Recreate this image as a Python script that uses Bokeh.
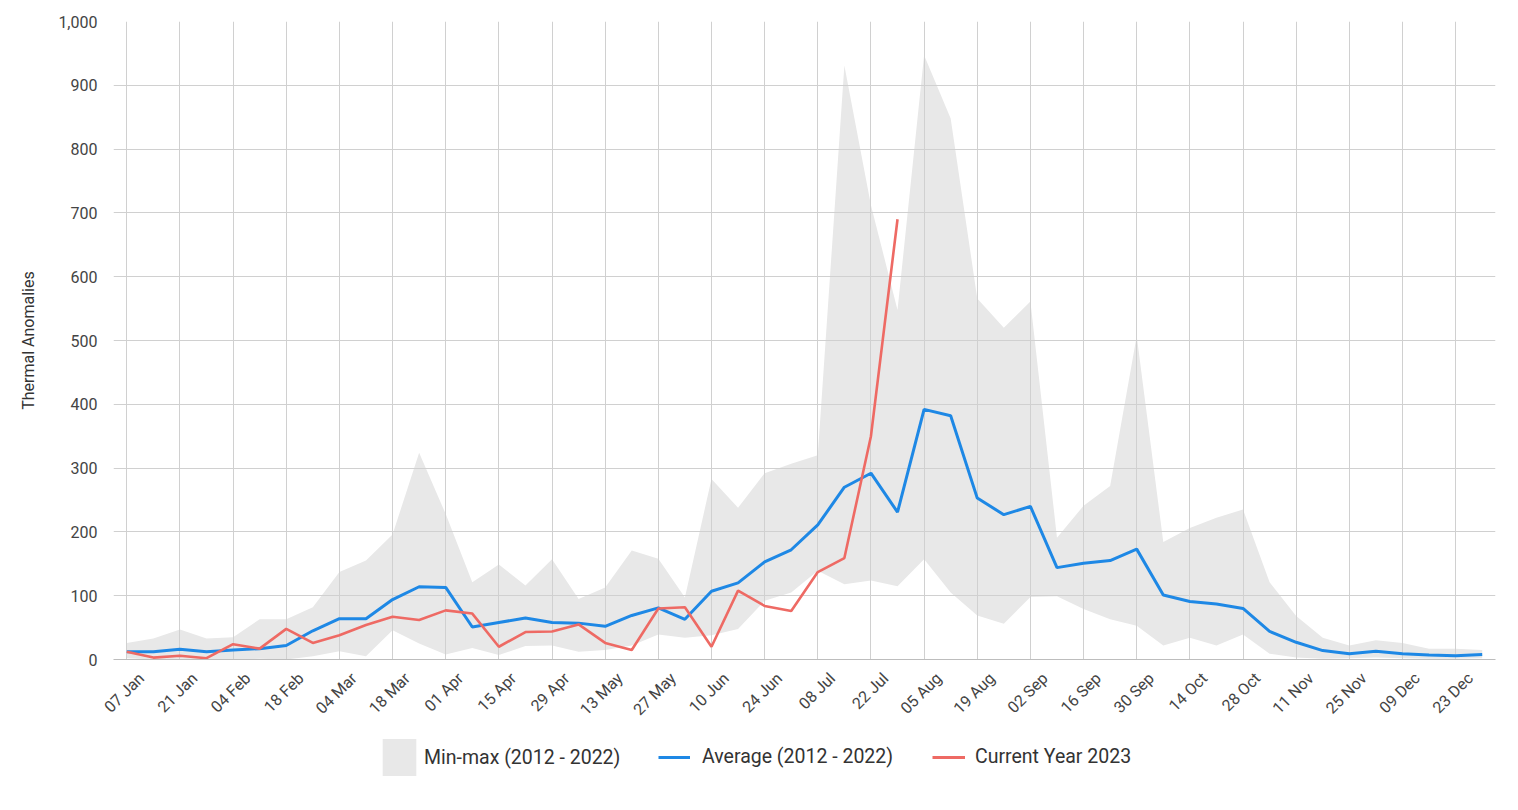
import math
from bokeh.plotting import figure
from bokeh.layouts import column
from bokeh.models import (Range1d, FixedTicker, NumeralTickFormatter, Legend, LegendItem,
                          CustomJSTickFormatter)
from bokeh.embed import file_html
from bokeh.resources import INLINE

# Weekly periods (week ending dates)
weeks = ["07 Jan", "14 Jan", "21 Jan", "28 Jan", "04 Feb", "11 Feb", "18 Feb", "25 Feb",
         "04 Mar", "11 Mar", "18 Mar", "25 Mar", "01 Apr", "08 Apr", "15 Apr", "22 Apr",
         "29 Apr", "06 May", "13 May", "20 May", "27 May", "03 Jun", "10 Jun", "17 Jun",
         "24 Jun", "01 Jul", "08 Jul", "15 Jul", "22 Jul", "29 Jul", "05 Aug", "12 Aug",
         "19 Aug", "26 Aug", "02 Sep", "09 Sep", "16 Sep", "23 Sep", "30 Sep", "07 Oct",
         "14 Oct", "21 Oct", "28 Oct", "04 Nov", "11 Nov", "18 Nov", "25 Nov", "02 Dec",
         "09 Dec", "16 Dec", "23 Dec", "30 Dec"]

# Minimum and maximum weekly counts over 2012 - 2022
min_2012_2022 = [2, 0, 1, 0, 0, 1, 0, 5, 13, 5, 46, 25, 8, 18, 7, 21, 22, 12, 15, 22,
                 39, 34, 38, 48, 92, 105, 139, 118, 124, 115, 157, 105, 69, 56, 98, 99,
                 79, 63, 53, 22, 34, 22, 39, 9, 3, 1, 2, 3, 2, 1, 1, 2]
max_2012_2022 = [26, 33, 47, 33, 35, 63, 63, 82, 137, 155, 196, 324, 228, 121, 149, 116,
                 157, 95, 113, 171, 158, 97, 283, 238, 292, 307, 320, 931, 712, 548, 947,
                 848, 566, 520, 561, 191, 241, 272, 507, 184, 206, 222, 235, 121, 68, 34,
                 22, 30, 26, 17, 17, 15]

# Average weekly counts over 2012 - 2022
avg_2012_2022 = [12, 12, 16, 12, 15, 17, 22, 45, 64, 64, 94, 114, 113, 51, 58, 65, 58, 57,
                 52, 69, 81, 63, 107, 120, 153, 172, 211, 270, 292, 231, 392, 382, 253, 227,
                 240, 144, 151, 155, 173, 101, 91, 87, 80, 44, 27, 14, 9, 13, 9, 7, 6, 8]

# Current year, weeks available so far
current_2023 = [12, 3, 6, 2, 24, 17, 48, 26, 38, 54, 67, 62, 77, 72, 20, 43, 44, 55, 26, 15,
                80, 82, 20, 108, 84, 76, 137, 159, 350, 690]

series_labels = ["Min-max (2012 - 2022)", "Average (2012 - 2022)", "Current Year 2023"]

x_all = list(range(len(weeks)))
x_cur = list(range(len(current_2023)))
tick_idx = list(range(0, len(weeks), 2))

FONT = "Roboto"
BAND = "#e8e8e8"
BLUE = "#1e88e5"
RED = "#ee6a64"
LABEL_SHIFT = 0.55   # rotated date labels sit slightly right of their grid line

W = 1518
MAIN_H = 728
LEG_H = 82

p = figure(width=W, height=MAIN_H, output_backend="svg", toolbar_location=None,
           x_range=Range1d(-0.5, len(weeks) - 0.5), y_range=Range1d(0, 1000),
           min_border_left=113, min_border_right=23, min_border_top=21,
           min_border_bottom=68)
p.outline_line_color = None

p.varea(x=x_all, y1=min_2012_2022, y2=max_2012_2022, fill_color=BAND, level="image")
p.line(x_all, avg_2012_2022, line_color=BLUE, line_width=3)
p.line(x_cur, current_2023, line_color=RED, line_width=2.6)

# Grid
p.xgrid.ticker = FixedTicker(ticks=tick_idx)
p.ygrid.ticker = FixedTicker(ticks=list(range(0, 1001, 100)))
for g in (p.xgrid, p.ygrid):
    g.grid_line_color = "#d0d0d0"
    g.grid_line_width = 1

# X axis
xa = p.xaxis[0]
xa.ticker = FixedTicker(ticks=[i + LABEL_SHIFT for i in tick_idx])
xa.formatter = CustomJSTickFormatter(args=dict(labels=weeks, shift=LABEL_SHIFT),
                                     code="return labels[Math.round(tick - shift)] || '';")
xa.major_label_orientation = math.pi / 4
xa.major_label_text_font = FONT
xa.major_label_text_font_size = "16px"
xa.major_label_text_color = "#444444"
xa.major_tick_line_color = None
xa.major_tick_out = 0
xa.major_tick_in = 0
xa.minor_tick_line_color = None
xa.axis_line_color = "#bdbdbd"
xa.major_label_standoff = 16

# Y axis
ya = p.yaxis[0]
ya.ticker = FixedTicker(ticks=list(range(0, 1001, 100)))
ya.formatter = NumeralTickFormatter(format="0,0")
ya.major_label_text_font = FONT
ya.major_label_text_font_size = "16px"
ya.major_label_text_color = "#444444"
ya.major_tick_line_color = None
ya.major_tick_out = 0
ya.major_tick_in = 0
ya.minor_tick_line_color = None
ya.axis_line_color = None
ya.major_label_standoff = 16
ya.axis_label = "Thermal Anomalies"
ya.axis_label_text_font = FONT
ya.axis_label_text_font_size = "16px"
ya.axis_label_text_font_style = "normal"
ya.axis_label_text_color = "#333333"
ya.axis_label_standoff = 17

# Legend strip under the chart; its frame lines up with the chart frame
leg = figure(width=W, height=LEG_H, output_backend="svg", toolbar_location=None,
             x_range=Range1d(0, 1), y_range=Range1d(0, 1),
             min_border_left=113, min_border_right=23,
             min_border_top=0, min_border_bottom=0)
leg.axis.visible = False
leg.grid.visible = False
leg.outline_line_color = None

# Key glyphs kept outside the visible ranges; only their legend swatches show
k_band = leg.varea(x=[-2, -1], y1=[-2, -2], y2=[-1, -1], fill_color=BAND)
k_avg = leg.line(x=[-2, -1], y=[-2, -2], line_color=BLUE, line_width=3)
k_cur = leg.line(x=[-2, -1], y=[-2, -2], line_color=RED, line_width=3)

common = dict(orientation="horizontal", label_text_font=FONT,
              label_text_font_size="19.5px", label_text_color="#333333",
              border_line_color=None, background_fill_alpha=0, padding=0, margin=0)

legend_band = Legend(items=[LegendItem(label=series_labels[0], renderers=[k_band])],
                     location=(265, 30), glyph_width=42, glyph_height=46,
                     label_standoff=4, **common)
legend_avg = Legend(items=[LegendItem(label=series_labels[1], renderers=[k_avg])],
                    location=(545, 42), glyph_width=32, glyph_height=20,
                    label_standoff=12, **common)
legend_cur = Legend(items=[LegendItem(label=series_labels[2], renderers=[k_cur])],
                    location=(819, 42), glyph_width=33, glyph_height=20,
                    label_standoff=10, **common)
for lg in (legend_band, legend_avg, legend_cur):
    leg.add_layout(lg, "center")

open("out.html", "w").write(file_html(column(p, leg, spacing=0), INLINE))
